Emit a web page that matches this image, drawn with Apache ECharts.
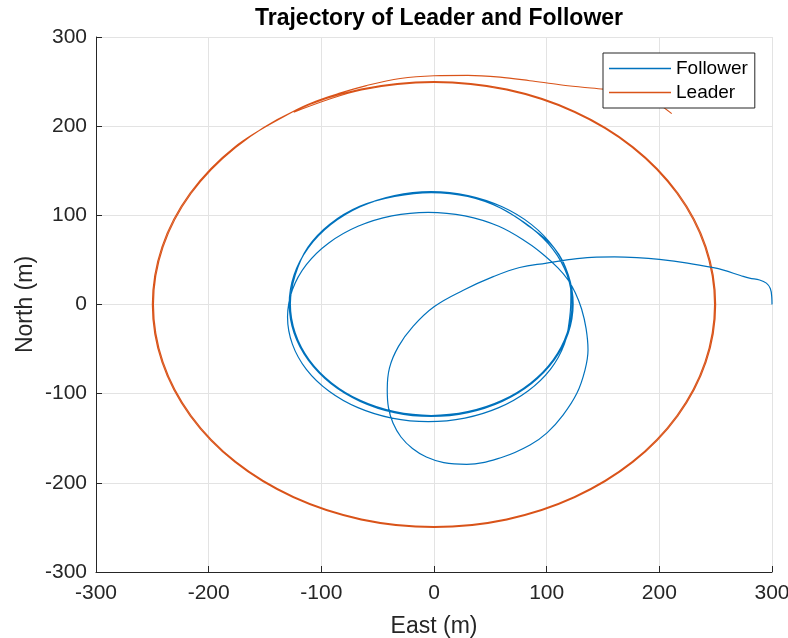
<!DOCTYPE html>
<html>
<head>
<meta charset="utf-8">
<script src="https://cdn.jsdelivr.net/npm/echarts@6/dist/echarts.min.js"></script>
<style>
html,body{margin:0;padding:0;background:#fff;}
#chart{width:788px;height:638px;}
</style>
</head>
<body>
<div id="chart"></div>
<script>
// Tick values of both axes
const xTicks = [-300, -200, -100, 0, 100, 200, 300];
const yTicks = [-300, -200, -100, 0, 100, 200, 300];

// Follower trajectory (East, North) in metres
const followerEast = [
  300, 299.8, 298.5, 295, 289, 280, 272, 257, 248, 225, 200, 180, 160, 140, 118, 100, 76, 52.6, 26, 0,
  -18.6, -31.5, -39.5, -41.5, -40.4, -36.4, -29.3, -19.1, -6.8, 8.7, 29, 61.2, 85.2, 100.3, 114.5, 126.9, 134, 136.7, 135, 131, 125.5, 119,
  110, 98,
  83.4, 57.5, 27.4, -5, -37.4, -67.5, -93.4, -113.3, -125.7, -130, -125.7, -113.3, -93.4, -67.5, -37.4, -5,
  27.4, 57.5, 83.4, 103.3, 115.7, 120.5, 121.5,
  119.2, 106.6,
  86.6, 60.5, 30.1, -2.5, -35.1, -65.5, -91.6, -111.6, -124.2, -128.5, -124.2, -111.6, -91.6, -65.5, -35.1, -2.5,
  30.1, 60.5, 86.6, 106.6, 119.2, 123.5, 119.2, 106.6,
  84.5, 59.5, 29.9, -2.5, -34.9, -66, -92.5, -112, -123.2, -127.5, -123.2, -110.8, -90.9, -65, -34.9, -2.5,
  29.9, 60, 85.9, 105.8, 118.2, 122.5, 118.2, 105.3, 85, 59.5
];
const followerNorth = [
  0, 8, 18, 24, 27.5, 29.5, 32.5, 38.5, 41.3, 46.5, 50.5, 52.5, 53.3, 52.8, 50, 46.5, 41.5, 31.2, 16, -2.5,
  -24.5, -47, -71, -95.6, -115.7, -133, -148.6, -161.5, -171, -177.3, -179.2, -171, -157.6, -144, -124, -99.3, -73.5, -51, -27, -5, 13, 27.5,
  41, 55,
  69, 87.7, 99.4, 103.4, 99.4, 87.7, 69, 44.7, 16.4, -14, -44.4, -72.7, -97, -115.7, -127.4, -131.4,
  -127.4, -115.7, -97, -72.7, -44.4, -14, 10,
  33.1, 63.5,
  89.6, 109.6, 122.2, 126.5, 122.2, 109.6, 89.6, 63.5, 33.1, 0.5, -32.1, -62.5, -88.6, -108.6, -121.2, -125.5,
  -121.2, -108.6, -88.6, -62.5, -32.1, 0.5, 33.1, 63.5,
  87.5, 108, 121.2, 125.5, 121.2, 110, 90, 64, 32.9, 0.5, -31.9, -62, -87.9, -107.8, -120.2, -124.5,
  -120.2, -107.8, -87.9, -62, -31.9, 0.5, 32.9, 62.5, 87.5, 108
];

// Leader trajectory (East, North) in metres
const leaderEast = [
  211, 200, 185, 167, 150.5, 130, 111.8, 85, 58.6, 30, 0, -30, -60, -85, -105,
  -125, -176.8, -216.5, -241.5, -250, -241.5, -216.5, -176.8, -125, -64.7, 0, 64.7, 125, 176.8, 216.5, 241.5,
  250, 241.5, 216.5, 176.8, 125, 64.7, 0, -64.7, -125,
  -176.1, -215.6, -240.5, -249, -240.5, -215.6, -176.1, -124.5, -64.4, 0, 64.4, 124.5, 176.1, 215.6, 240.5,
  249, 240.5, 215.6, 176.1, 124.5, 64.4, 0, -64.4, -124.5
];
const leaderNorth = [
  214, 224, 233, 239, 241.5, 244, 246.5, 251, 255, 257, 256.6, 253.5, 245.5, 236.5, 228,
  216.5, 176.8, 125, 64.7, 0, -64.7, -125, -176.8, -216.5, -241.5, -250, -241.5, -216.5, -176.8, -125, -64.7,
  0, 64.7, 125, 176.8, 216.5, 241.5, 250, 241.5, 216.5,
  176.1, 124.5, 64.4, 0, -64.4, -124.5, -176.1, -215.6, -240.5, -249, -240.5, -215.6, -176.1, -124.5, -64.4,
  0, 64.4, 124.5, 176.1, 215.6, 240.5, 249, 240.5, 215.6
];

const followerData = followerEast.map((x, i) => [x, followerNorth[i]]);
const leaderData = leaderEast.map((x, i) => [x, leaderNorth[i]]);

const FONT = 'Liberation Sans';
const chart = echarts.init(document.getElementById('chart'), null, {renderer: 'canvas'});
const axisCommon = {
  type: 'value',
  min: xTicks[0],
  max: xTicks[xTicks.length - 1],
  interval: 100,
  nameMoveOverlap: false,
  axisLine: {show: true, onZero: false, lineStyle: {color: '#262626', width: 1}},
  axisTick: {show: true, inside: true, length: 6, lineStyle: {color: '#262626'}},
  splitLine: {show: true, lineStyle: {color: '#e3e3e3', width: 1}},
  axisLabel: {color: '#262626', fontFamily: FONT, fontSize: 21},
  nameTextStyle: {color: '#262626', fontFamily: FONT, fontSize: 23}
};
chart.setOption({
  animation: false,
  backgroundColor: '#ffffff',
  title: {
    text: 'Trajectory of Leader and Follower',
    left: 434, top: 2, textAlign: 'center',
    textStyle: {color: '#000', fontFamily: FONT, fontSize: 23, fontWeight: 'bold'}
  },
  grid: {left: 96, right: 16, top: 37, bottom: 66, containLabel: false, outerBoundsMode: 'none'},
  xAxis: Object.assign({}, axisCommon, {
    name: 'East (m)', nameLocation: 'middle', nameGap: 43,
    axisLabel: Object.assign({}, axisCommon.axisLabel, {margin: 11})
  }),
  yAxis: Object.assign({}, axisCommon, {
    min: yTicks[0], max: yTicks[yTicks.length - 1],
    name: 'North (m)', nameLocation: 'middle', nameGap: 59,
    axisLabel: Object.assign({}, axisCommon.axisLabel, {margin: 9})
  }),
  legend: {
    orient: 'vertical', left: 603, top: 53,
    data: ['Follower', 'Leader'],
    icon: 'rect', itemWidth: 62, itemHeight: 1.5, itemGap: 5,
    padding: [6, 7, 6, 6],
    borderColor: '#262626', borderWidth: 1, backgroundColor: '#ffffff',
    textStyle: {color: '#000', fontFamily: FONT, fontSize: 19}
  },
  series: [
    {
      name: 'Follower', type: 'line', data: followerData, smooth: 0.4,
      showSymbol: false, symbol: 'none', color: '#0072BD',
      lineStyle: {width: 1.2, color: '#0072BD'}, z: 3
    },
    {
      name: 'Leader', type: 'line', data: leaderData, smooth: 0.35,
      showSymbol: false, symbol: 'none', color: '#D95319',
      lineStyle: {width: 1.1, color: '#D95319'}, z: 2
    }
  ]
});
</script>
</body>
</html>
